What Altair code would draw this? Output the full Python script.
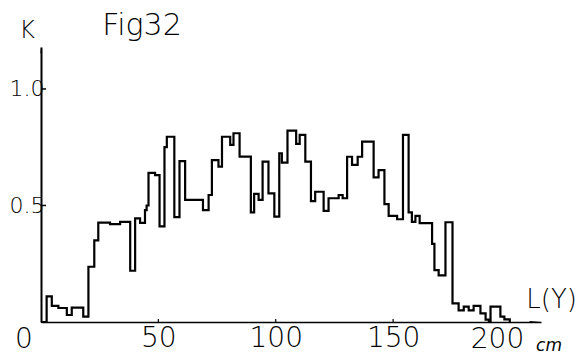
import altair as alt
import pandas as pd

# Step-histogram edges (cm) and K values
edges = [0, 2.4, 4.6, 7.4, 11.0, 13.1, 18.0, 20.2, 22.7, 24.4,
         29.4, 33.7, 38.0, 40.1, 42.2, 44.3, 45.0, 45.8, 48.6, 50.5,
         52.6, 53.6, 56.8, 59.0, 61.4, 69.0, 71.4, 72.8, 75.6, 77.1,
         80.6, 82.0, 84.6, 89.4, 90.8, 92.7, 94.4, 96.9, 99.4, 101.5,
         102.6, 105.0, 108.7, 110.2, 112.6, 115.0, 116.8, 120.4, 122.5, 126.8,
         128.5, 130.4, 132.5, 134.9, 136.8, 141.7, 143.8, 146.3, 148.1, 151.7,
         154.2, 156.6, 158.0, 159.5, 161.3, 166.6, 167.6, 169.4, 172.3, 175.3,
         177.9, 180.1, 182.2, 184.3, 187.2, 189.4, 190.8, 191.5, 195.7, 197.4,
         199.7]
k_values = [0, 0.11, 0.069, 0.06, 0.03, 0.062, 0.023, 0.237, 0.35, 0.426,
            0.42, 0.43, 0.22, 0.445, 0.425, 0.48, 0.5, 0.64, 0.63, 0.41,
            0.75, 0.795, 0.45, 0.69, 0.524, 0.48, 0.545, 0.695, 0.667, 0.795,
            0.76, 0.81, 0.71, 0.47, 0.55, 0.524, 0.688, 0.552, 0.452, 0.724,
            0.684, 0.821, 0.764, 0.803, 0.688, 0.519, 0.559, 0.477, 0.531, 0.545,
            0.531, 0.709, 0.674, 0.709, 0.774, 0.621, 0.652, 0.506, 0.455, 0.441,
            0.803, 0.47, 0.43, 0.455, 0.424, 0.335, 0.223, 0.2, 0.428, 0.08,
            0.05, 0.066, 0.05, 0.069, 0.037, 0.01, 0, 0.066, 0.023, 0.011,
            0]

x_ticks = [0, 50, 100, 150, 200]
x_mid_labels = [50, 100, 150]
y_ticks = [0.5, 1.0]
x_max = 213
y_max = 1.18

FONT = "DejaVu Sans"
W, H = 500, 275

df = pd.DataFrame({"L": edges, "K": k_values})

xs = alt.Scale(domain=[0, x_max], nice=False, zero=False)
ys = alt.Scale(domain=[0, y_max], nice=False)

line = alt.Chart(df).mark_line(
    interpolate="step-after", color="black", strokeWidth=2.2, strokeJoin="miter"
).encode(
    x=alt.X("L:Q", scale=xs, axis=alt.Axis(
        values=x_mid_labels, format="d", title=None, ticks=False, grid=False,
        domainColor="black", domainWidth=1.6, labelFont=FONT, labelFontSize=28,
        labelFontWeight=200, labelColor="black", labelPadding=2,
    )),
    y=alt.Y("K:Q", scale=ys, axis=alt.Axis(
        values=y_ticks, format=".1f", title=None, ticks=False, grid=False,
        domainColor="black", domainWidth=2, labelFont=FONT, labelFontSize=22,
        labelFontWeight=200, labelColor="black", labelPadding=-3,
    )),
)

ytick_df = pd.DataFrame({"t": y_ticks})
ytick = alt.Chart(ytick_df).mark_rule(color="black", strokeWidth=1.5).encode(
    y=alt.Y("t:Q", scale=ys), x=alt.value(0), x2=alt.value(5)
)
xtick_df = pd.DataFrame({"t": x_mid_labels})
xtick = alt.Chart(xtick_df).mark_rule(color="black", strokeWidth=1.2).encode(
    x=alt.X("t:Q", scale=xs), y=alt.value(H), y2=alt.value(H - 3)
)

arrow_x = alt.Chart(pd.DataFrame({"x": [x_max], "y": [0]})).mark_point(
    shape="M -2 -0.18 L 0 0 L -2 0.18 Z", filled=True, color="black", size=130, opacity=1
).encode(x=alt.X("x:Q", scale=xs), y=alt.Y("y:Q", scale=ys))
arrow_y = alt.Chart(pd.DataFrame({"x": [0], "y": [y_max]})).mark_point(
    shape="M -0.2 2 L 0 0 L 0.2 2 Z", filled=True, color="black", size=40, opacity=1
).encode(x=alt.X("x:Q", scale=xs), y=alt.Y("y:Q", scale=ys))

# end labels of the x axis, placed slightly off their ticks as in the drawing
end_labels = alt.Chart(pd.DataFrame({"v": [x_ticks[0]], "t": [str(x_ticks[0])]})).mark_text(
    font=FONT, fontSize=28, fontWeight=200, color="black", dx=-17, baseline="top", dy=4
).encode(x=alt.X("v:Q", scale=xs), y=alt.value(H), text="t:N")
end_labels2 = alt.Chart(pd.DataFrame({"v": [x_ticks[-1]], "t": [str(x_ticks[-1])]})).mark_text(
    font=FONT, fontSize=28, fontWeight=200, color="black", dx=-13, baseline="top", dy=4
).encode(x=alt.X("v:Q", scale=xs), y=alt.value(H), text="t:N")


def label(text, x, y, size, **kw):
    return alt.Chart(pd.DataFrame({"t": [text]})).mark_text(
        font=FONT, fontSize=size, fontWeight=200, color="black", **kw
    ).encode(text="t:N", x=alt.value(x), y=alt.value(y))


texts = [
    label("K", -14, -16, 24),
    label("Fig32", 101, -21, 30),
    label("L(Y)", 536, 253, 26, align="right"),
    label("cm", 508, 299, 17, fontStyle="italic"),
]

chart = alt.layer(line, ytick, xtick, arrow_x, arrow_y, end_labels, end_labels2, *texts).properties(
    width=W, height=H,
    autosize=alt.AutoSizeParams(type="none"),
    padding={"left": 33, "top": 39, "right": 36, "bottom": 34},
    background="white",
).configure_view(stroke=None)

chart.save("out.html", embed_options={"renderer": "svg", "actions": False})
